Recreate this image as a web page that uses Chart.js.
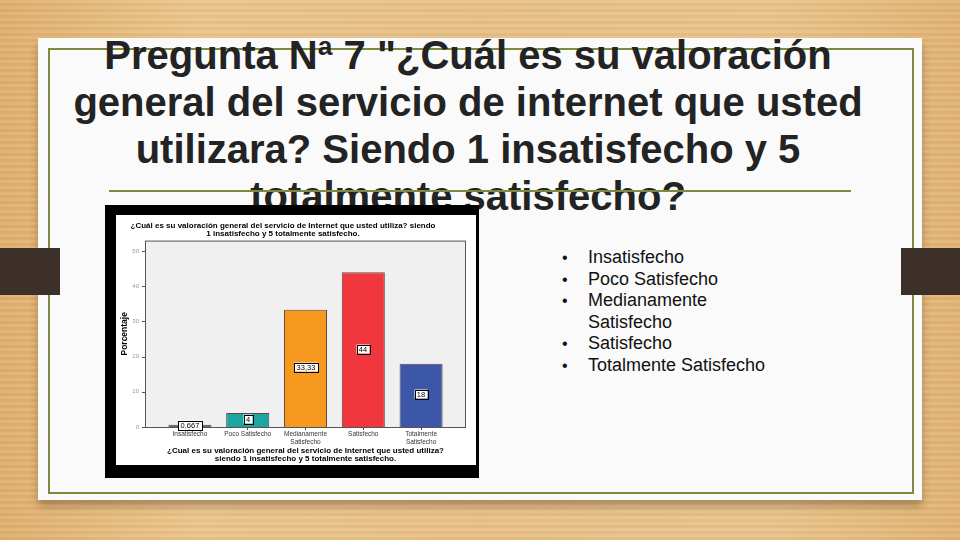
<!DOCTYPE html>
<html>
<head>
<meta charset="utf-8">
<script src="https://cdn.jsdelivr.net/npm/chart.js@4"></script>
<style>
  body {
    margin: 0;
    width: 960px;
    height: 540px;
    overflow: hidden;
    position: relative;
    font-family: "Liberation Sans", Arial, sans-serif;
    background:
      repeating-linear-gradient(180deg, rgba(255,255,255,0.06) 0px, rgba(255,255,255,0.06) 3px, rgba(120,70,20,0.05) 3px, rgba(120,70,20,0.05) 6px),
      linear-gradient(90deg, #e0b06e 0%, #ebc58c 20%, #e8c088 50%, #e9c48c 80%, #e2b474 100%);
  }
  #paper {
    position: absolute; left: 38px; top: 38px; width: 884px; height: 462px;
    background: #fafafa;
    box-shadow: 0 6px 8px rgba(60,40,20,0.35);
  }
  #frame {
    position: absolute; left: 48px; top: 48px; width: 862px; height: 442px;
    border: 2px solid #7d8b3e;
  }
  .tab { position: absolute; top: 248px; width: 60px; height: 47px; background: #3d3029; }
  #titulo {
    position: absolute; left: 60px; top: 32px; width: 816px;
    font-weight: bold; font-size: 40px; line-height: 47px;
    text-align: center; color: #232323; white-space: nowrap;
  }
  #raya { position: absolute; left: 109px; top: 190px; width: 742px; height: 2px; background: #7d8b3e; }
  #lista {
    position: absolute; left: 562px; top: 247px; width: 230px;
    margin: 0; padding: 0; list-style: none;
    font-size: 18px; line-height: 21.5px; color: #111;
  }
  #lista li { position: relative; padding-left: 26px; width: 192px; }
  #lista li::before { content: "\2022"; position: absolute; left: 0; top: 0; font-size: 16px; }
  #caja {
    position: absolute; left: 105px; top: 205px; width: 374px; height: 273px; background: #000;
  }
  #blanco { position: absolute; left: 11px; top: 10px; width: 360px; height: 250px; background: #fff; }
</style>
</head>
<body>
<div id="paper"></div>
<div id="frame"></div>
<div class="tab" style="left:0"></div>
<div class="tab" style="left:901px"></div>
<div id="titulo">Pregunta Nª 7 "¿Cuál es su valoración<br>general del servicio de internet que usted<br>utilizara? Siendo 1 insatisfecho y 5<br>totalmente satisfecho?</div>
<div id="raya"></div>
<ul id="lista">
  <li>Insatisfecho</li>
  <li>Poco Satisfecho</li>
  <li>Medianamente Satisfecho</li>
  <li>Satisfecho</li>
  <li>Totalmente Satisfecho</li>
</ul>
<div id="caja"><div id="blanco"><canvas id="grafico" width="360" height="250"></canvas></div></div>

<script>
// datos
const categorias = [["Insatisfecho"], ["Poco Satisfecho"], ["Medianamente", "Satisfecho"], ["Satisfecho"], ["Totalmente", "Satisfecho"]];
const porcentajes = [0.667, 4, 33.33, 44, 18];
const etiquetas = ["0,667", "4", "33,33", "44", "18"];
const ticksY = [0, 10, 20, 30, 40, 50];

const colores = ["#3f7b5b", "#1ba6a0", "#f7981f", "#f0373e", "#3c56a8"];
const fuente = '"Liberation Sans", Arial, sans-serif';

// fondo gris del area de trazado, un poco mas ancho que las categorias
const fondo = {
  id: "fondo",
  beforeDraw(chart) {
    const ctx = chart.ctx;
    const a = chart.chartArea;
    const y = chart.scales.y;
    const l = a.left - 16, r = a.right + 16;
    ctx.save();
    ctx.fillStyle = "#f0f0f0";
    ctx.fillRect(l, a.top, r - l, a.bottom - a.top);
    ctx.strokeStyle = "#555";
    ctx.lineWidth = 1;
    ctx.strokeRect(l + 0.5, a.top + 0.5, r - l - 1, a.bottom - a.top);
    ctx.beginPath();
    ticksY.forEach(function (v) {
      const py = Math.round(y.getPixelForValue(v)) + 0.5;
      ctx.moveTo(l - 3, py);
      ctx.lineTo(l, py);
    });
    ctx.stroke();
    ctx.restore();
  }
};

// rotulos blancos en el centro de cada barra
const rotulos = {
  id: "rotulos",
  afterDatasetsDraw(chart) {
    const ctx = chart.ctx;
    ctx.save();
    ctx.font = "7.5px " + fuente;
    ctx.textAlign = "center";
    ctx.textBaseline = "middle";
    chart.getDatasetMeta(0).data.forEach(function (bar, i) {
      const txt = etiquetas[i];
      const w = Math.round(ctx.measureText(txt).width) + 5, h = 9;
      const cx = Math.round(bar.x), cy = Math.round((bar.y + bar.base) / 2) - 1;
      ctx.fillStyle = "#fff";
      ctx.fillRect(cx - w / 2, cy - h / 2, w, h);
      ctx.strokeStyle = "#000";
      ctx.lineWidth = 1;
      ctx.strokeRect(Math.round(cx - w / 2) + 0.5, Math.round(cy - h / 2) + 0.5, w, h);
      ctx.fillStyle = "#000";
      ctx.fillText(txt, cx, cy + 1);
    });
    ctx.restore();
  }
};

new Chart(document.getElementById("grafico").getContext("2d"), {
  type: "bar",
  data: {
    labels: categorias,
    datasets: [{
      data: porcentajes,
      backgroundColor: colores,
      borderColor: "rgba(60,30,30,0.8)",
      borderWidth: 1,
      categoryPercentage: 1,
      barPercentage: 0.745
    }]
  },
  options: {
    responsive: false,
    animation: false,
    layout: { padding: { left: 0, right: 26, top: 0, bottom: 0 } },
    plugins: {
      legend: { display: false },
      tooltip: { enabled: false },
      title: {
        display: true,
        text: ["¿Cuál es su valoración general del servicio de Internet que usted utiliza? siendo", "1 insatisfecho y 5 totalmente satisfecho."],
        color: "#000",
        font: { family: fuente, size: 8, weight: "bold", lineHeight: 1.1 },
        padding: { top: 3, bottom: 2 }
      }
    },
    scales: {
      x: {
        grid: { display: true, drawOnChartArea: false, offset: false, tickLength: 3, color: "#555" },
        border: { display: false },
        ticks: { color: "#333", font: { family: fuente, size: 6.5, lineHeight: 1.1 }, padding: 1, maxRotation: 0, autoSkip: false },
        title: {
          display: true,
          text: ["¿Cual es su valoración general del servicio de Internet que usted utiliza?", "siendo 1 insatisfecho y 5 totalmente satisfecho."],
          color: "#000",
          font: { family: fuente, size: 8, weight: "bold", lineHeight: 1.05 },
          padding: { top: 0, bottom: 2 }
        },
        afterFit: function (s) { s.height = 38; }
      },
      y: {
        min: 0,
        max: 53,
        grid: { display: false, drawTicks: false },
        border: { display: false },
        afterBuildTicks: function (s) { s.ticks = ticksY.map(function (v) { return { value: v }; }); },
        ticks: { color: "#999", font: { family: fuente, size: 6 }, padding: 22 },
        title: {
          display: true,
          text: "Porcentaje",
          color: "#000",
          font: { family: fuente, size: 8.5, weight: "bold" },
          padding: { top: 4, bottom: 0 }
        },
        afterFit: function (s) { s.width = 45; }
      }
    }
  },
  plugins: [fondo, rotulos]
});
</script>
</body>
</html>
